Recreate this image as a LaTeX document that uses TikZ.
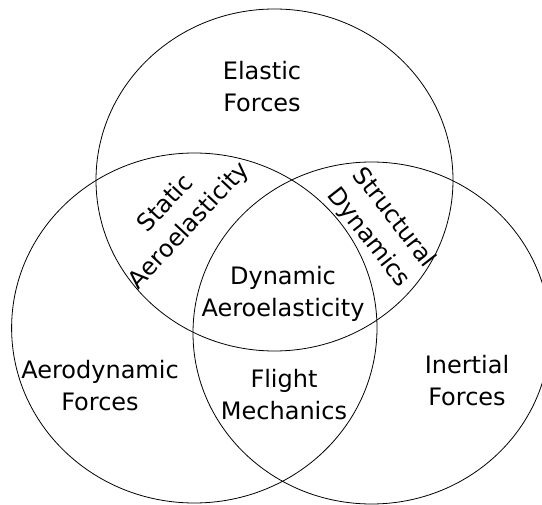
\documentclass[tikz,border=0pt]{standalone}
\usepackage{fontspec}
\setmainfont{DejaVu Sans}
\tikzset{
	every node/.style={
		align=center,
		font=\fontsize{24}{32}\selectfont,
	},
	every path/.style={
		align=center,
	},
	set/.style={line width=0.8pt},
}

\begin{document}
\begin{tikzpicture}[x=1pt, y=-1pt]
	\useasboundingbox (0,0) rectangle (542,505);
	\clip (0,0) rectangle (542,505);
	% centres of the three sets
	\coordinate (elastic) at (274.5,180);
	\coordinate (aero) at (194.3,328);
	\coordinate (inertial) at (371.5,333);
	\draw[set] (elastic) ellipse [x radius=178.5, y radius=171];
	\draw[set] (aero) ellipse [x radius=182.7, y radius=175];
	\draw[set] (inertial) ellipse [x radius=178.5, y radius=171];
	% labels
	\node[] (elasticforces) at (262,87) {Elastic\\Forces};
	\node[] (aeroforces) at (100,385.5) {Aerodynamic\\Forces};
	\node[] (inertialforces) at (467,381) {Inertial\\Forces};
	\node[] (static) at (178,215) [rotate=47] {Static\\Aeroelasticity};
	\node[] (structural) at (381,228) [rotate=-52] {Structural\\Dynamics};
	\node[] (dynamic) at (283,293.5) {Dynamic\\Aeroelasticity};
	\node[] (flight) at (284,394.5) {Flight\\Mechanics};
\end{tikzpicture}
\end{document}
